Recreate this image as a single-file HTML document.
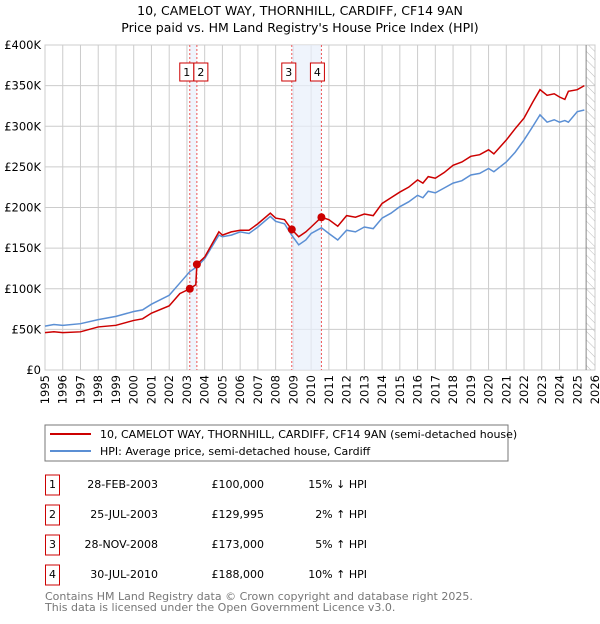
<!DOCTYPE html>
<html><head><meta charset="utf-8"><style>
body{margin:0;background:#fff;width:600px;height:620px;overflow:hidden;font-family:"DejaVu Sans","Liberation Sans",sans-serif;}
text{font-family:"DejaVu Sans","Liberation Sans",sans-serif;}
</style></head><body>
<svg id="chart" width="600" height="620" viewBox="0 0 600 620" xmlns="http://www.w3.org/2000/svg">
<defs><pattern id="hatch" width="6" height="6" patternUnits="userSpaceOnUse" patternTransform="rotate(-45)"><line x1="0" y1="0" x2="0" y2="6" stroke="#bbb" stroke-width="1"/></pattern></defs>
<text x="300" y="15" font-size="12.5" text-anchor="middle" fill="#000">10, CAMELOT WAY, THORNHILL, CARDIFF, CF14 9AN</text>
<text x="300" y="32" font-size="12.5" text-anchor="middle" fill="#000">Price paid vs. HM Land Registry's House Price Index (HPI)</text>
<g id="grid"></g><g id="shade"></g><g id="series"></g><g id="marks"></g><g id="axes"></g>
<rect x="45" y="425" width="463" height="36" fill="#fff" stroke="#777" stroke-width="1"/>
<line x1="50" y1="434" x2="91" y2="434" stroke="#cc0000" stroke-width="2"/>
<text x="100" y="438" font-size="11">10, CAMELOT WAY, THORNHILL, CARDIFF, CF14 9AN (semi-detached house)</text>
<line x1="50" y1="451" x2="91" y2="451" stroke="#5b8fd4" stroke-width="2"/>
<text x="100" y="455" font-size="11">HPI: Average price, semi-detached house, Cardiff</text>
<g id="table"></g>
<text x="45" y="600" font-size="11" fill="#777">Contains HM Land Registry data © Crown copyright and database right 2025.</text>
<text x="45" y="611" font-size="11" fill="#777">This data is licensed under the Open Government Licence v3.0.</text>
</svg>
<script>
const hpiYears=[1995,1995.5,1996,1997,1998,1999,2000,2000.5,2001,2002,2002.6,2003.16,2003.56,2004,2004.8,2005,2005.5,2006,2006.5,2007,2007.7,2008,2008.5,2008.9,2009.3,2009.7,2010,2010.58,2011,2011.5,2012,2012.5,2013,2013.5,2014,2014.5,2015,2015.5,2016,2016.3,2016.6,2017,2017.5,2018,2018.5,2019,2019.5,2020,2020.3,2021,2021.5,2022,2022.5,2022.9,2023.3,2023.7,2024,2024.3,2024.5,2025,2025.4];
const hpiValues=[54,56,55,57,62,66,72,74,81,92,107,121,127,137,166,164,166,170,168,176,189,183,180,166,154,160,168,175,168,160,172,170,176,174,187,193,201,207,215,212,220,218,224,230,233,240,242,248,244,256,268,283,300,314,305,308,305,307,305,318,320];
const priceYears=[1995,1995.5,1996,1997,1998,1999,2000,2000.5,2001,2002,2002.6,2003.16,2003.5,2003.56,2004,2004.8,2005,2005.5,2006,2006.5,2007,2007.7,2008,2008.5,2008.9,2009.3,2009.7,2010,2010.58,2011,2011.5,2012,2012.5,2013,2013.5,2014,2014.5,2015,2015.5,2016,2016.3,2016.6,2017,2017.5,2018,2018.5,2019,2019.5,2020,2020.3,2021,2021.5,2022,2022.5,2022.9,2023.3,2023.7,2024,2024.3,2024.5,2025,2025.4];
const priceValues=[46,47,46,47,53,55,61,63,70,79,94,100,105,130,139,170,166,170,172,172,180,193,187,185,173,164,170,176,188,185,177,190,188,192,190,205,212,219,225,234,230,238,236,243,252,256,263,265,271,266,283,297,310,330,345,338,340,336,333,343,345,350];
const saleLabels=["1","2","3","4"];
const saleYears=[2003.16,2003.56,2008.91,2010.58];
const saleValues=[100,129.995,173,188];
const saleDates=["28-FEB-2003","25-JUL-2003","28-NOV-2008","30-JUL-2010"];
const salePrices=["£100,000","£129,995","£173,000","£188,000"];
const saleHpi=["15% ↓ HPI","2% ↑ HPI","5% ↑ HPI","10% ↑ HPI"];
const yTicks=[0,50,100,150,200,250,300,350,400];
const yTickLabels=["£0","£50K","£100K","£150K","£200K","£250K","£300K","£350K","£400K"];
const xTicks=[1995,1996,1997,1998,1999,2000,2001,2002,2003,2004,2005,2006,2007,2008,2009,2010,2011,2012,2013,2014,2015,2016,2017,2018,2019,2020,2021,2022,2023,2024,2025,2026];

const NS="http://www.w3.org/2000/svg";
const L=45,R=595,T=45,B=370,X0=1995,X1=2026,YMAX=400;
const xs=y=>L+(y-X0)/(X1-X0)*(R-L);
const ys=v=>B-v/YMAX*(B-T);
function mk(tag,attrs,parent){const e=document.createElementNS(NS,tag);for(const k in attrs)e.setAttribute(k,attrs[k]);parent.appendChild(e);return e;}
const grid=document.getElementById('grid'),shade=document.getElementById('shade'),series=document.getElementById('series'),marks=document.getElementById('marks'),axes=document.getElementById('axes'),table=document.getElementById('table');
xTicks.forEach(t=>{const l=mk('line',{x1:xs(t),x2:xs(t),y1:T,y2:B,stroke:'#cccccc','stroke-width':1},grid);


const tx=mk('text',{x:0,y:0,'font-size':11.5,'text-anchor':'end',transform:`translate(${xs(t)+4},${B+5}) rotate(-90)`},axes);tx.textContent=t;

});
yTicks.forEach((t,i)=>{const l=mk('line',{x1:L,x2:R,y1:ys(t),y2:ys(t),stroke:'#cccccc','stroke-width':1},grid);


const tx=mk('text',{x:L-4,y:ys(t)+4,'font-size':11.5,'text-anchor':'end'},axes);tx.textContent=yTickLabels[i];

});
const h=mk('rect',{x:xs(2025.5),y:T,width:R-xs(2025.5),height:B-T,fill:'url(#hatch)'},shade);


mk('line',{x1:xs(2025.5),x2:xs(2025.5),y1:T,y2:B,stroke:'#888'},shade);
[[0,1],[2,3]].forEach(p=>{const r=mk('rect',{x:xs(saleYears[p[0]]),y:T,width:xs(saleYears[p[1]])-xs(saleYears[p[0]]),height:B-T,fill:'#e8effb',opacity:0.7},shade);

});
saleYears.forEach(y=>{const l=mk('line',{x1:xs(y),x2:xs(y),y1:T,y2:B,stroke:'#ee5555','stroke-width':1,'stroke-dasharray':'2,2'},shade);

});
mk('rect',{x:L,y:T,width:R-L,height:B-T,fill:'none',stroke:'#cccccc'},grid);
const hp=mk('polyline',{points:hpiYears.map((y,i)=>xs(y)+','+ys(hpiValues[i])).join(' '),fill:'none',stroke:'#5b8fd4','stroke-width':1.5},series);


const pp=mk('polyline',{points:priceYears.map((y,i)=>xs(y)+','+ys(priceValues[i])).join(' '),fill:'none',stroke:'#cc0000','stroke-width':1.5},series);


saleYears.forEach((y,i)=>{const c=mk('circle',{cx:xs(y),cy:ys(saleValues[i]),r:4,fill:'#cc0000'},marks);


const off=[-3,4,-3,-4][i];
const g=mk('g',{},marks);


const bx=xs(y)+off-7;
mk('rect',{x:bx,y:63,width:14,height:18,fill:'#fff',stroke:'#cc0000'},g);
const tx=mk('text',{x:bx+7,y:76,'font-size':11,'text-anchor':'middle'},g);tx.textContent=saleLabels[i];});
saleLabels.forEach((s,i)=>{const cy=485+i*30;
const g=mk('g',{},table);


mk('rect',{x:45.5,y:cy-10,width:14,height:20,fill:'#fff',stroke:'#cc0000'},g);
const a=mk('text',{x:52.5,y:cy+3,'font-size':11,'text-anchor':'middle'},g);a.textContent=s;
const b=mk('text',{x:158,y:cy+3,'font-size':11,'text-anchor':'end'},g);b.textContent=saleDates[i];
const c=mk('text',{x:264,y:cy+3,'font-size':11,'text-anchor':'end'},g);c.textContent=salePrices[i];
const d=mk('text',{x:367,y:cy+3,'font-size':11,'text-anchor':'end'},g);d.textContent=saleHpi[i];});
</script>
</body></html>
